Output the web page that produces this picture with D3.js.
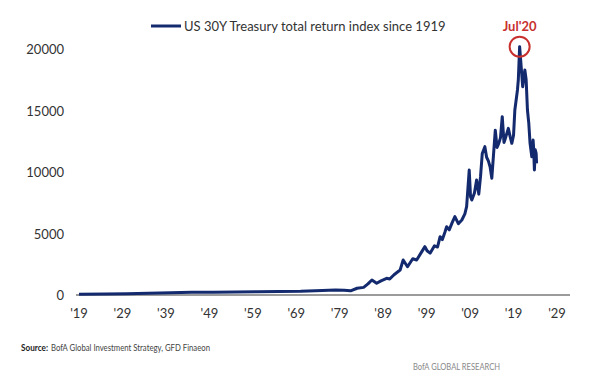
<!DOCTYPE html>
<html>
<head>
<meta charset="utf-8">
<script src="https://cdn.jsdelivr.net/npm/d3@7"></script>
<style>
  body { margin: 0; background: #fff; }
  svg { display: block; font-family: Lato, "Open Sans", sans-serif; }
</style>
</head>
<body>
<svg id="chart" width="600" height="388"></svg>
<script>
// US 30Y Treasury total return index
const years = [1919, 1925, 1930, 1935, 1940, 1945, 1950, 1955, 1960, 1965, 1970, 1975, 1978, 1980, 1981.5,
  1983, 1984.5, 1985.5, 1986.4, 1987.5, 1988.5, 1989.8, 1990.5, 1991.5, 1992.9, 1993.6, 1994.6, 1995.8,
  1996.7, 1997.5, 1998.6, 1999.1, 1999.8, 2000.8, 2001.5, 2002.1, 2002.6, 2003.2, 2003.6, 2004.2, 2004.9,
  2005.5, 2006.3, 2007.1, 2007.8, 2008.2, 2008.8, 2009.1, 2009.4, 2010.0, 2010.5, 2011.0, 2011.4, 2011.8,
  2012.4, 2012.8, 2013.2, 2013.6, 2014.0, 2014.8, 2015.2, 2015.6, 2016.0, 2016.4, 2016.8, 2017.0, 2017.8,
  2018.2, 2018.6, 2019.0, 2019.3, 2019.9, 2020.1, 2020.4, 2020.7, 2021.1, 2021.6, 2021.9, 2022.2, 2022.5,
  2022.8, 2023.2, 2023.5, 2023.6, 2023.8, 2024.0, 2024.2, 2024.3];
const values = [60, 90, 110, 150, 190, 220, 230, 240, 260, 290, 300, 360, 400, 380, 340,
  550, 620, 900, 1220, 950, 1150, 1355, 1300, 1650, 2030, 2850, 2300, 2950,
  2850, 3300, 3930, 3600, 3400, 4000, 3900, 4740, 4500, 5100, 5550, 5300, 5900,
  6370, 5800, 6100, 6600, 7180, 10160, 8000, 7720, 8300, 9350, 8200, 9620, 11500,
  12060, 11200, 10900, 10430, 9500, 13400, 12000, 12330, 12800, 14500, 12400, 12600, 13550,
  12900, 12330, 13000, 15040, 16670, 17500, 20190, 18840, 16930, 18290, 17500, 15040, 14000,
  12330, 11240, 12600, 12060, 10160, 11800, 11520, 10700];
const yTicks = [0, 5000, 10000, 15000, 20000];
const xTicks = [1919, 1929, 1939, 1949, 1959, 1969, 1979, 1989, 1999, 2009, 2019, 2029];
const peak = {year: 2020.4, value: 20190, label: "Jul'20"};
const seriesName = "US 30Y Treasury total return index since 1919";

const navy = "#142a6e", red = "#c8302e";
const svg = d3.select("#chart");

const x = d3.scaleLinear().domain([1919, 2029]).range([79, 557]);
const y = d3.scaleLinear().domain([0, 20000]).range([295, 49]);

// baseline
svg.append("line")
  .attr("x1", 76).attr("x2", 570)
  .attr("y1", y(0)).attr("y2", y(0))
  .attr("stroke", "#7a7a7a").attr("stroke-width", 1.5);

// y labels
svg.append("g").selectAll("text").data(yTicks).join("text")
  .attr("x", 64).attr("y", d => y(d) + 5)
  .attr("text-anchor", "end")
  .attr("font-size", 13).attr("fill", "#333")
  .text(d => d);

// x labels
svg.append("g").selectAll("text").data(xTicks).join("text")
  .attr("x", d => x(d)).attr("y", 318)
  .attr("text-anchor", "middle")
  .attr("font-size", 13).attr("fill", "#333")
  .text(d => "'" + String(d).slice(2));

const line = d3.line()
  .x((d, i) => x(years[i]))
  .y(d => y(d));

svg.append("path")
  .datum(values)
  .attr("fill", "none")
  .attr("stroke", navy)
  .attr("stroke-width", 3)
  .attr("stroke-linejoin", "round")
  .attr("d", line);

// legend
svg.append("line")
  .attr("x1", 151).attr("x2", 181).attr("y1", 26).attr("y2", 26)
  .attr("stroke", navy).attr("stroke-width", 3);
svg.append("text")
  .attr("x", 184).attr("y", 31)
  .attr("font-size", 13).attr("fill", "#333")
  .text(seriesName);

// peak marker
svg.append("circle")
  .attr("cx", x(peak.year)).attr("cy", y(peak.value))
  .attr("r", 10)
  .attr("fill", "none").attr("stroke", red).attr("stroke-width", 2);
svg.append("text")
  .attr("x", x(peak.year)).attr("y", 31)
  .attr("text-anchor", "middle")
  .attr("font-size", 13).attr("font-weight", "bold").attr("fill", red)
  .text(peak.label);

// footer
svg.append("text")
  .attr("x", 21).attr("y", 351)
  .attr("font-size", 10).attr("font-weight", "bold").attr("fill", "#222")
  .attr("textLength", 27).attr("lengthAdjust", "spacingAndGlyphs")
  .text("Source:");
svg.append("text")
  .attr("x", 51).attr("y", 351)
  .attr("font-size", 10).attr("fill", "#444")
  .attr("textLength", 159).attr("lengthAdjust", "spacingAndGlyphs")
  .text("BofA Global Investment Strategy, GFD Finaeon");

svg.append("text")
  .attr("x", 413).attr("y", 370)
  .attr("font-size", 10).attr("fill", "#888")
  .attr("textLength", 87).attr("lengthAdjust", "spacingAndGlyphs")
  .text("BofA GLOBAL RESEARCH");
</script>
</body>
</html>
